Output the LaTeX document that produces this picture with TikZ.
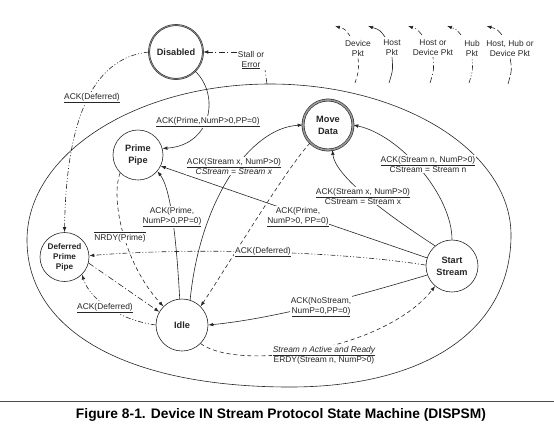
\documentclass[tikz,border=0pt]{standalone}
\usepackage{fontspec}
\setmainfont{Liberation Sans}
\usetikzlibrary{arrows.meta,calc}
\begin{document}
\begin{tikzpicture}[x=1pt,y=-1pt,
  every node/.style={font=\fontsize{8.4}{10}\selectfont, text=black!85},
  st/.style={circle,draw=black!85,line width=0.6pt,fill=white,inner sep=0pt,align=center,
    font=\fontsize{9.2}{12}\selectfont\bfseries},
  lbl/.style={fill=white,inner sep=0.8pt,align=center},
  tip/.style={-{Latex[length=5pt,width=3.6pt]}},
  host/.style={draw=black!85,line width=0.6pt},
  dev/.style={host,dash pattern=on 4pt off 3pt},
  hod/.style={host,dash pattern=on 6pt off 2.5pt on 1pt off 2.5pt},
  hub/.style={host,dash pattern=on 5pt off 2pt on 1pt off 2pt on 1pt off 2pt},
  hhd/.style={host,dash pattern=on 7pt off 2.5pt},
]
\useasboundingbox (0,0) rectangle (554,429);

% big oval (slightly fuller at the bottom)
\draw[host] (270,84) .. controls (403,84) and (511,152) .. (511,235)
  .. controls (511,329) and (427,387) .. (290,387)
  .. controls (127,387) and (27,331) .. (27,240)
  .. controls (27,154) and (136,84) .. cycle;

% states
\node[st,minimum size=54pt,draw=black!85,line width=0.5pt,double=black!45,double distance=0.8pt] (dis) at (176,52) {Disabled};
\node[st,minimum size=50pt] (pp) at (138,155) {Prime\\Pipe};
\node[st,minimum size=50pt,line width=0.6pt,double=black!40,double distance=1.6pt] (md) at (328,125) {Move\\Data};
\node[st,minimum size=49pt,font=\fontsize{8.2}{10}\selectfont\bfseries] (dpp) at (64.5,257) {Deferred\\Prime\\Pipe};
\node[st,minimum size=52pt] (idle) at (182,325) {Idle};
\node[st,minimum size=52pt] (ss) at (452,266) {Start\\Stream};

% stall or error
\coordinate (es) at (267,84);
\node[lbl] (stall) at (251,60) {Stall or\\\underline{Error}};
\draw[hod] (es) -- (stall.south east);
\draw[hod,tip] (stall.west |- dis.east) -- (dis.east);

% transitions
\draw[hub,tip] (dis.west) .. controls (90,58) and (66,125) .. (dpp.north);
\draw[host,tip] (dis.-45) .. controls (220,95) and (212,145) .. (pp.15);
\draw[dev,tip] (pp.-135) .. controls (110,200) and (125,265) .. (idle.135);
\draw[host,tip] (idle.95) .. controls (177,250) and (172,190) .. (pp.-40);
\draw[host,tip] (idle.72) .. controls (200,200) and (250,128) .. (md.180);
\draw[dev,tip] (md.-135) .. controls (285,170) and (225,270) .. (idle.45);
\draw[host,tip] (ss.130) .. controls (380,210) and (335,175) .. (md.-80);
\draw[host,tip] (ss.90) .. controls (452,195) and (400,135) .. (md.0);
\draw[host,tip] (ss.162) .. controls (340,228) and (250,197) .. (pp.-26);
\draw[hub,tip] (ss.178) .. controls (330,250) and (180,248) .. (dpp.3);
\draw[hod,tip] (dpp.-14) -- (idle.150);
\draw[hub,tip] (idle.180) .. controls (120,320) and (90,300) .. (dpp.-45);
\draw[host,tip] (ss.-160) .. controls (370,292) and (280,318) .. (idle.0);
\draw[dev,tip] (idle.-45) .. controls (240,372) and (385,350) .. (ss.-130);

% labels
\node[lbl] (l1) at (92,98) {\underline{ACK(Deferred)}};
\node[lbl] (l2) at (208,122) {\underline{ACK(Prime,NumP>0,PP=0)}};
\node[lbl] (l3) at (120,237) {$\overline{\mbox{NRDY(Prime)}}$};
\node[lbl] (l4) at (172,217) {ACK(Prime,\\\underline{NumP>0,PP=0)}};
\node[lbl] (l5) at (234,166) {\underline{ACK(Stream x, NumP>0)}\\\textit{CStream = Stream x}};
\node[lbl] (l6) at (363,196) {\underline{ACK(Stream x, NumP>0)}\\CStream = Stream x};
\node[lbl] (l7) at (428,164) {\underline{ACK(Stream n, NumP>0)}\\CStream = Stream n};
\node[lbl] (l8) at (298,217) {ACK(Prime,\\\underline{NumP>0, PP=0)}};
\node[lbl] (l9) at (263,252) {\underline{ACK(Deferred)}};
\node[lbl] (l10) at (105,308) {\underline{ACK(Deferred)}};
\node[lbl] (l11) at (321,307) {ACK(NoStream,\\\underline{NumP=0,PP=0)}};
\node[lbl] (l12) at (324,355) {\textit{\underline{Stream n Active and Ready}}\\ERDY(Stream n, NumP>0)};

% legend
\node[align=center,inner sep=1pt] (k1) at (358,48) {Device\\Pkt};
\node[align=center,inner sep=1pt] (k2) at (392,48) {Host\\Pkt};
\node[align=center,inner sep=1pt] (k3) at (433,48) {Host or\\Device Pkt};
\node[align=center,inner sep=1pt] (k4) at (472,48) {Hub\\Pkt};
\node[align=center,inner sep=1pt] (k5) at (510,48) {Host, Hub or\\Device Pkt};
\coordinate (b1) at (355,83); \coordinate (u1) at (350,36); \coordinate (t1) at (335,26);
\coordinate (b2) at (389,83); \coordinate (u2) at (385,37); \coordinate (t2) at (368,26);
\coordinate (b3) at (430,83); \coordinate (u3) at (422,35); \coordinate (t3) at (408,26);
\coordinate (b4) at (469,83); \coordinate (u4) at (461,35); \coordinate (t4) at (447,26);
\coordinate (b5) at (508,84); \coordinate (u5) at (502,35); \coordinate (t5) at (486.5,26);
\draw[dev] (b1) .. controls (359,70) .. (k1.south);
\draw[dev,tip] (u1) .. controls (345,29) .. (t1);
\draw[host] (b2) .. controls (393,70) .. (k2.south);
\draw[host,tip] (u2) .. controls (380,30) .. (t2);
\draw[hod] (b3) .. controls (434,70) .. (k3.south);
\draw[hod,tip] (u3) .. controls (417,29) .. (t3);
\draw[hub] (b4) .. controls (473,70) .. (k4.south);
\draw[hub,tip] (u4) .. controls (456,29) .. (t4);
\draw[hhd] (b5) .. controls (512,70) .. (k5.south);
\draw[hhd,tip] (u5) .. controls (497,29) .. (t5);

% caption
\draw[black!70,line width=1.2pt] (0,401.5) -- (554,401.5);
\node[font=\fontsize{13.8}{15}\selectfont\bfseries,text=black] (cap) at (281,415) {Figure 8-1. Device IN Stream Protocol State Machine (DISPSM)};
\end{tikzpicture}
\end{document}
